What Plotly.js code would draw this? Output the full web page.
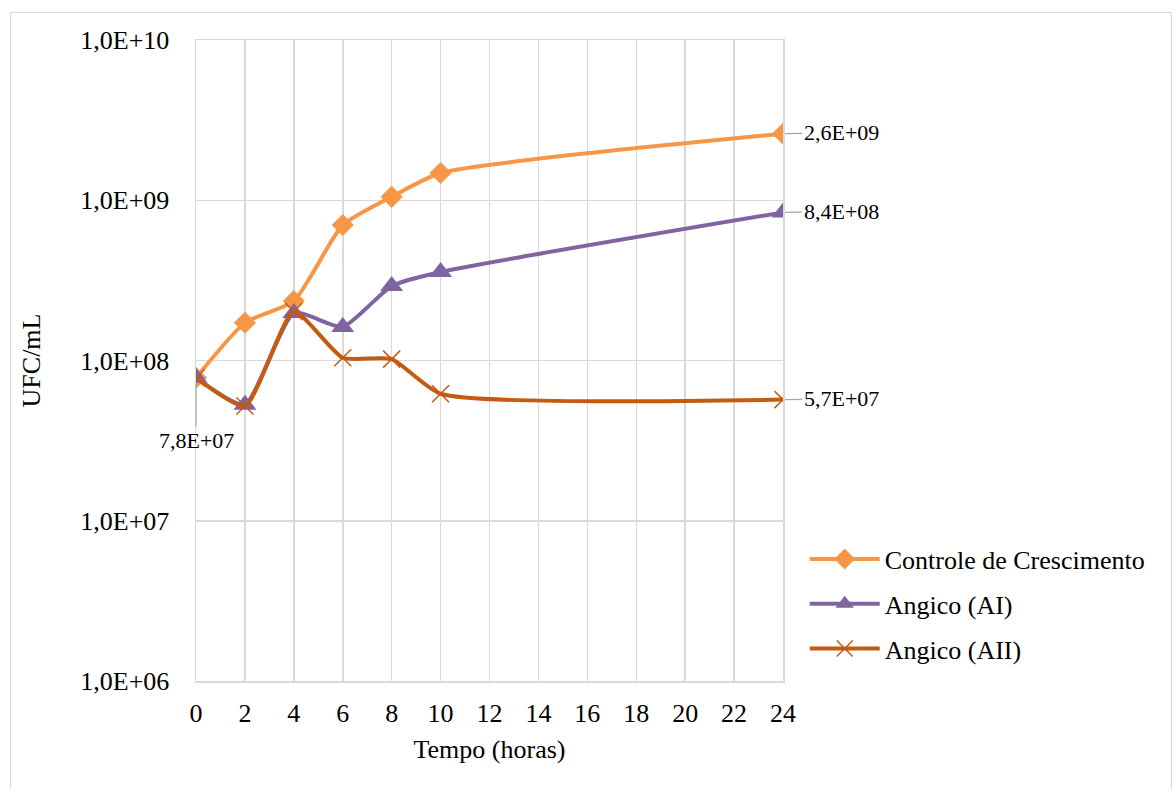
<!DOCTYPE html>
<html><head><meta charset="utf-8">
<script src="https://cdn.plot.ly/plotly-3.0.1.min.js"></script>
<style>
html,body{margin:0;padding:0;background:#fff;}
#frame{position:absolute;left:10px;top:12px;width:1162px;height:790px;border:1px solid #D9D9D9;box-sizing:border-box;}
#chart{position:absolute;left:0;top:0;width:1176px;height:789px;}
</style></head>
<body>
<div id="frame"></div>
<div id="chart"></div>
<script>
const hours = [0, 2, 4, 6, 8, 10, 24];
const controle = [7.8e7, 1.72e8, 2.35e8, 7.0e8, 1.05e9, 1.48e9, 2.6e9];
const angicoAI = [7.8e7, 5.3e7, 1.98e8, 1.62e8, 2.92e8, 3.57e8, 8.4e8];
const angicoAII = [7.8e7, 5.2e7, 2.02e8, 1.04e8, 1.02e8, 6.2e7, 5.7e7];
const seriesNames = ['Controle de Crescimento', 'Angico (AI)', 'Angico (AII)'];
const yTickVals = [1e6, 1e7, 1e8, 1e9, 1e10];
const xTickVals = [0,2,4,6,8,10,12,14,16,18,20,22,24];

function fmt(v){
  const e = Math.floor(Math.log10(v));
  const m = (v/Math.pow(10,e)).toFixed(1).replace('.', ',');
  return m + 'E+' + (e<10?'0':'') + e;
}

const font = {family:'Liberation Serif, Times New Roman, serif', color:'#000'};
const f = s => Object.assign({}, font, {size:s});
const colors = ['#F79646', '#8064A2', '#C55A11'];
const sm = 0.55;

const traces = [
  {x:hours, y:controle, name:seriesNames[0], legendgroup:'a', mode:'lines+markers', line:{color:colors[0], width:4, shape:'spline', smoothing:sm}, marker:{symbol:'diamond', size:17, color:colors[0]}},
  {x:hours, y:angicoAI, name:seriesNames[1], legendgroup:'b', mode:'lines+markers', line:{color:colors[1], width:4, shape:'spline', smoothing:sm}, marker:{symbol:'triangle-up', size:20, color:colors[1]}},
  {x:hours, y:angicoAII, name:seriesNames[2], legendgroup:'c', mode:'lines+markers', line:{color:colors[2], width:4, shape:'spline', smoothing:sm}, marker:{symbol:'x-thin-open', size:17, color:colors[2], line:{color:colors[2], width:1.5}}}
];

const last = hours.length-1;
const annFont = f(22);
const lead = {showarrow:true, arrowhead:0, arrowwidth:1.2, arrowcolor:'#A6A6A6', font:annFont};
const annotations = [
  Object.assign({x:hours[0], y:Math.log10(angicoAII[0]), text:fmt(angicoAII[0]), ax:0, ay:63, standoff:6}, lead),
  Object.assign({x:hours[last], y:Math.log10(controle[last]), text:fmt(controle[last]), ax:58, ay:-1, standoff:2}, lead),
  Object.assign({x:hours[last], y:Math.log10(angicoAI[last]), text:fmt(angicoAI[last]), ax:58, ay:-1, standoff:2}, lead),
  Object.assign({x:hours[last], y:Math.log10(angicoAII[last]), text:fmt(angicoAII[last]), ax:58, ay:-1, standoff:2}, lead)
];

const layout = {
  width:1176, height:789,
  paper_bgcolor:'rgba(0,0,0,0)', plot_bgcolor:'#fff',
  margin:{l:196, r:393, t:40, b:108},
  font:f(26),
  showlegend:true,
  legend:{x:1.037, xanchor:'left', y:0.12, yanchor:'middle', font:f(26), tracegroupgap:8, itemwidth:70, bgcolor:'rgba(0,0,0,0)'},
  xaxis:{range:[0,24], tickvals:xTickVals, ticktext:xTickVals.map(String), showgrid:true, gridcolor:'#D9D9D9', gridwidth:1.5, zeroline:false, showline:true, mirror:true, linecolor:'#D9D9D9', linewidth:1.5, ticks:'', ticklabelstandoff:8, tickfont:f(26),
    title:{text:'Tempo (horas)', font:f(26), standoff:13}},
  yaxis:{type:'log', range:[6,10], tickvals:yTickVals, ticktext:yTickVals.map(fmt), showgrid:true, gridcolor:'#D9D9D9', gridwidth:1.5, zeroline:false, showline:true, mirror:true, linecolor:'#D9D9D9', linewidth:1.5, ticks:'', ticklabelstandoff:20, tickfont:f(26),
    title:{text:'UFC/mL', font:f(26), standoff:32}},
  annotations:annotations
};

Plotly.newPlot('chart', traces, layout, {displayModeBar:false, staticPlot:true});
</script>
</body></html>
